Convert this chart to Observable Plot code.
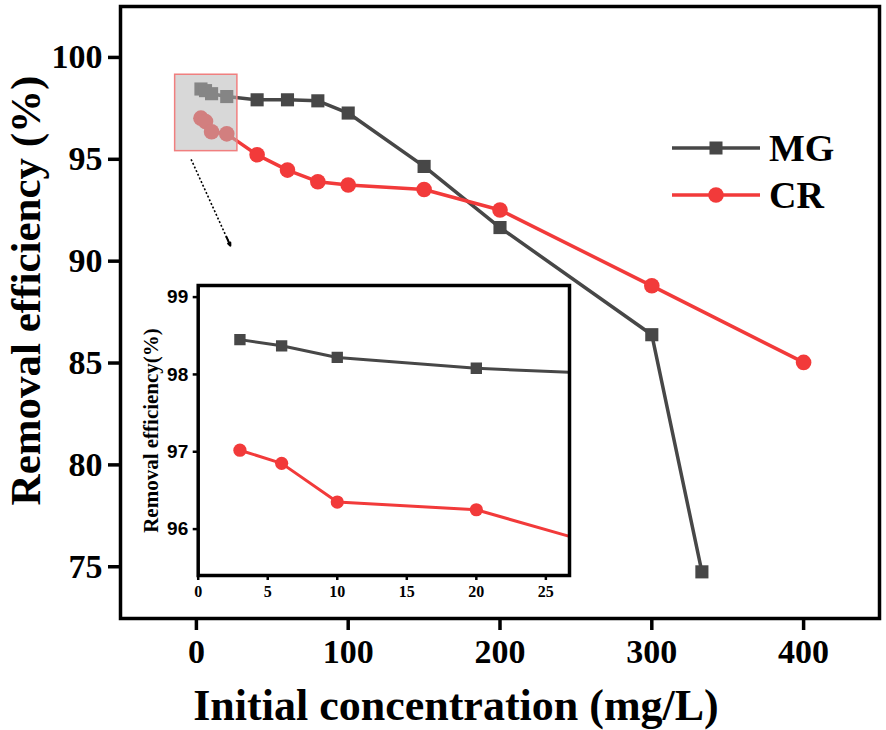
<!DOCTYPE html>
<html>
<head>
<meta charset="utf-8">
<script src="https://cdn.jsdelivr.net/npm/d3@7"></script>
<script src="https://cdn.jsdelivr.net/npm/@observablehq/plot@0.6"></script>
<style>
  html, body { margin: 0; padding: 0; background: white; }
  #wrap { position: relative; width: 886px; height: 730px; overflow: hidden; }
  #wrap > * { position: absolute; }
</style>
</head>
<body>
<div id="wrap"></div>
<script>
// ---- data ----
const mgConc = [3, 6, 10, 20, 40, 60, 80, 100, 150, 200, 300, 333];
const mgEff  = [98.45, 98.37, 98.22, 98.08, 97.92, 97.92, 97.87, 97.27, 94.65, 91.65, 86.39, 74.75];
const crConc = [3, 6, 10, 20, 40, 60, 80, 100, 150, 200, 300, 400];
const crEff  = [97.02, 96.85, 96.35, 96.25, 95.22, 94.47, 93.90, 93.74, 93.52, 92.51, 88.79, 85.03];

const mainXTicks = [0, 100, 200, 300, 400];
const mainYTicks = [75, 80, 85, 90, 95, 100];
const insetXTicks = [0, 5, 10, 15, 20, 25];
const insetYTicks = [96, 97, 98, 99];

const seriesNames = ["MG", "CR"];
const seriesColors = ["#474747", "#f23a3a"];

// zoom region highlighted in the main chart (data units)
const zoomX = [-14, 27];
const zoomY = [95.4, 99.15];
const arrowFrom = [-3.5, 95.0];
const arrowTo = [22.4, 90.76];

const mg = mgConc.map((c, i) => ({c, e: mgEff[i]}));
const cr = crConc.map((c, i) => ({c, e: crEff[i]}));

const serif = "'Liberation Serif', 'Times New Roman', serif";
const sans = "'Liberation Sans', Arial, sans-serif";

const headStart = [arrowFrom[0] + (arrowTo[0] - arrowFrom[0]) * 0.9, arrowFrom[1] + (arrowTo[1] - arrowFrom[1]) * 0.9];

const main = Plot.plot({
  width: 886, height: 730,
  marginLeft: 120, marginRight: 7, marginTop: 6, marginBottom: 112,
  x: {domain: [-50, 450]},
  y: {domain: [72.46, 102.5]},
  style: {fontFamily: serif, fontWeight: "bold", background: "white", color: "black"},
  marks: [
    Plot.axisX({ticks: mainXTicks, tickSize: 12, tickPadding: 8, strokeWidth: 3.5, fontSize: 34, fontWeight: "bold", label: null}),
    Plot.axisY({ticks: mainYTicks, tickSize: 12, tickPadding: 6, strokeWidth: 3.5, fontSize: 34, fontWeight: "bold", label: null}),
    Plot.line(mg, {x: "c", y: "e", stroke: seriesColors[0], strokeWidth: 3.5}),
    Plot.dot(mg, {x: "c", y: "e", symbol: "square", r: 7.4, fill: seriesColors[0]}),
    Plot.line(cr, {x: "c", y: "e", stroke: seriesColors[1], strokeWidth: 3.5}),
    Plot.dot(cr, {x: "c", y: "e", symbol: "circle", r: 7.8, fill: seriesColors[1]}),
    Plot.rect([0], {x1: () => zoomX[0], x2: () => zoomX[1], y1: () => zoomY[0], y2: () => zoomY[1],
      fill: "#b8b8b8", fillOpacity: 0.55, stroke: "#f07f7f", strokeWidth: 1.5}),
    Plot.link([0], {x1: () => arrowFrom[0], y1: () => arrowFrom[1], x2: () => arrowTo[0], y2: () => arrowTo[1],
      stroke: "black", strokeWidth: 1.6, strokeDasharray: "2,2"}),
    Plot.arrow([0], {x1: () => headStart[0], y1: () => headStart[1], x2: () => arrowTo[0], y2: () => arrowTo[1],
      stroke: "black", strokeWidth: 2, headLength: 11, headAngle: 45}),
    Plot.frame({stroke: "black", strokeWidth: 3.5}),
    Plot.text(["Removal efficiency (%)"], {frameAnchor: "left", textAnchor: "middle", lineAnchor: "middle",
      rotate: -90, dx: -94, dy: -22,
      fontSize: 43, fontWeight: "bold", fontFamily: serif, fill: "black"}),
    Plot.text(["Initial concentration (mg/L)"], {frameAnchor: "bottom", textAnchor: "middle", lineAnchor: "middle",
      dx: -44, dy: 87,
      fontSize: 44, fontWeight: "bold", fontFamily: serif, fill: "black"})
  ]
});
main.style.left = "0px"; main.style.top = "0px";

const inset = Plot.plot({
  width: 450, height: 345,
  marginLeft: 67.7, marginTop: 15, marginRight: 11, marginBottom: 40,
  x: {domain: [0, 26.7]},
  y: {domain: [95.4, 99.15]},
  style: {fontFamily: serif, fontWeight: "bold", background: "transparent", color: "black", overflow: "visible"},
  marks: [
    Plot.frame({fill: "white"}),
    Plot.axisX({ticks: insetXTicks, tickFormat: "d", tickSize: 5, tickPadding: 5, strokeWidth: 2.5, fontSize: 16, fontWeight: "bold", label: null}),
    Plot.axisY({ticks: insetYTicks, tickFormat: "d", tickSize: 5, tickPadding: 5, strokeWidth: 2.5, fontSize: 19, fontWeight: "bold", fontFamily: sans, label: null}),
    Plot.line(mg, {x: "c", y: "e", stroke: seriesColors[0], strokeWidth: 3, clip: true}),
    Plot.dot(mg, {x: "c", y: "e", symbol: "square", r: 6.4, fill: seriesColors[0], clip: true}),
    Plot.line(cr, {x: "c", y: "e", stroke: seriesColors[1], strokeWidth: 3, clip: true}),
    Plot.dot(cr, {x: "c", y: "e", symbol: "circle", r: 6.6, fill: seriesColors[1], clip: true}),
    Plot.frame({stroke: "black", strokeWidth: 3.5}),
    Plot.text(["Removal efficiency(%)"], {frameAnchor: "left", textAnchor: "middle", lineAnchor: "middle",
      rotate: -90, dx: -47, dy: 0,
      fontSize: 21, fontWeight: "bold", fontFamily: serif, fill: "black"})
  ]
});
inset.style.left = "130px"; inset.style.top = "270px";

const wrap = document.getElementById("wrap");
wrap.appendChild(main);
wrap.appendChild(inset);

// legend
const leg = d3.create("svg").attr("width", 220).attr("height", 110)
  .style("left", "660px").style("top", "120px");
const rows = [{y: 28, sym: "square"}, {y: 75, sym: "circle"}];
rows.forEach((r, i) => {
  leg.append("line").attr("x1", 12).attr("x2", 100).attr("y1", r.y).attr("y2", r.y)
    .attr("stroke", seriesColors[i]).attr("stroke-width", 3.5);
  if (r.sym === "square") {
    leg.append("rect").attr("x", 56 - 6.5).attr("y", r.y - 6.5).attr("width", 13).attr("height", 13)
      .attr("fill", seriesColors[i]);
  } else {
    leg.append("circle").attr("cx", 56).attr("cy", r.y).attr("r", 7.8).attr("fill", seriesColors[i]);
  }
  leg.append("text").attr("x", 109).attr("y", r.y).attr("dy", "0.35em")
    .attr("font-family", serif).attr("font-weight", "bold").attr("font-size", 38)
    .attr("fill", "black").text(seriesNames[i]);
});
wrap.appendChild(leg.node());
</script>
</body>
</html>
